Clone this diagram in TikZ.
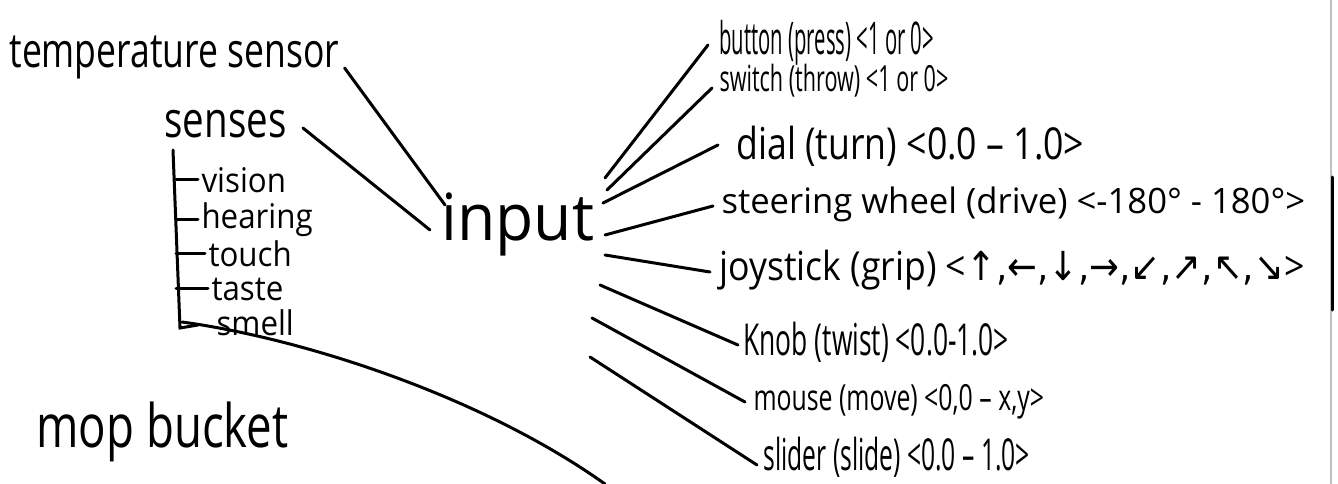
\documentclass[tikz,border=0pt]{standalone}
\usepackage{fontspec}
\setmainfont{Open Sans}
\newfontfamily\arrowfont{DejaVu Sans}
\newcommand{\hw}[3][0.72]{\scalebox{#1}[1]{\fontsize{#2}{#2}\selectfont #3}}

\begin{document}
\begin{tikzpicture}
[x=1pt,y=-1pt,line width=3pt,line cap=round,
 every node/.style={inner sep=0pt,anchor=base west}]
\useasboundingbox (0,0) rectangle (1338,484);
% Nodes of the diagram
\node (temp)    at (8,68)    {\hw[0.74]{48}{temperature sensor}};
\node (senses)  at (163,138) {\hw[0.77]{50}{senses}};
\node (vision)  at (200,192) {\hw[0.92]{34}{vision}};
\node (hearing) at (200,228) {\hw[0.92]{34}{hearing}};
\node (touch)   at (207,266) {\hw[0.92]{34}{touch}};
\node (taste)   at (210,300) {\hw[0.92]{34}{taste}};
\node (smell)   at (215,335) {\hw[0.92]{34}{smell}};
\node (mop)     at (35,447)  {\hw[0.76]{60}{mop bucket}};
\node (input)   at (440,240) {\hw[0.96]{65}{input}};

\node (button)   at (718,55)  {\hw[0.45]{45}{button (press) <1 or 0>}};
\node (switch)   at (718,92)  {\hw[0.6]{36}{switch (throw) <1 or 0>}};
\node (dial)     at (735,160) {\hw[0.81]{44}{dial (turn) <0.0 -- 1.0>}};
\node (steering) at (720,213) {\hw[0.99]{35}{steering wheel (drive) <-180° - 180°>}};
\node (joystick) at (718,280) {\hw[0.89]{40}{joystick (grip) <{\arrowfont ↑,←,↓,→,↙,↗,↖,↘}>}};
\node (knob)     at (742,355) {\hw[0.6]{44}{Knob (twist) <0.0-1.0>}};
\node (mouse)    at (752,410) {\hw[0.69]{36}{mouse (move) <0,0 -- x,y>}};
\node (slider)   at (762,470) {\hw[0.56]{44}{slider (slide) <0.0 -- 1.0>}};

\coordinate (root)  at ([shift={(10,12)}]senses.base west);
\coordinate (foot)  at (180,328);
\coordinate (floor) at (605,484);

% senses tree
\draw (root) -- (foot) -- ++(18,-3);
\foreach \s in {vision,hearing,touch,taste}
  \draw[shorten >=2pt] ([xshift=3pt]root |- \s.west) -- (\s.west);
\draw ([shift={(2,-6)}]foot) .. controls (300,338) and (480,395) .. (floor);

% into input
\draw ([shift={(4,0)}]temp.base east) -- ([shift={(5,-35)}]input.base west);
\draw ([shift={(15,-10)}]senses.base east) -- ([shift={(-10,-10)}]input.base west);

% out of input
\draw ([shift={(165,-62)}]input.base west) -- ([shift={(-10,-10)}]button.base west);
\draw ([shift={(167,-50)}]input.base west) -- ([shift={(-6,-4)}]switch.base west);
\draw ([shift={(163,-37)}]input.base west) -- ([shift={(-17,-15)}]dial.base west);
\draw ([shift={(165,-5)}]input.base west)  -- ([shift={(-7,-7)}]steering.base west);
\draw ([shift={(165,15)}]input.base west)  -- ([shift={(-8,-8)}]joystick.base west);
\draw ([shift={(160,45)}]input.base west)  -- ([shift={(-4,-10)}]knob.base west);
\draw ([shift={(152,78)}]input.base west)  -- ([shift={(-7,-8)}]mouse.base west);
\draw ([shift={(150,117)}]input.base west) -- ([shift={(-5,-5)}]slider.base west);

% edge of the sheet
\draw[gray!50,line width=1.2pt] (1331,0) -- (1331,484);
\draw (1332,177) -- (1332,310);
\end{tikzpicture}
\end{document}
